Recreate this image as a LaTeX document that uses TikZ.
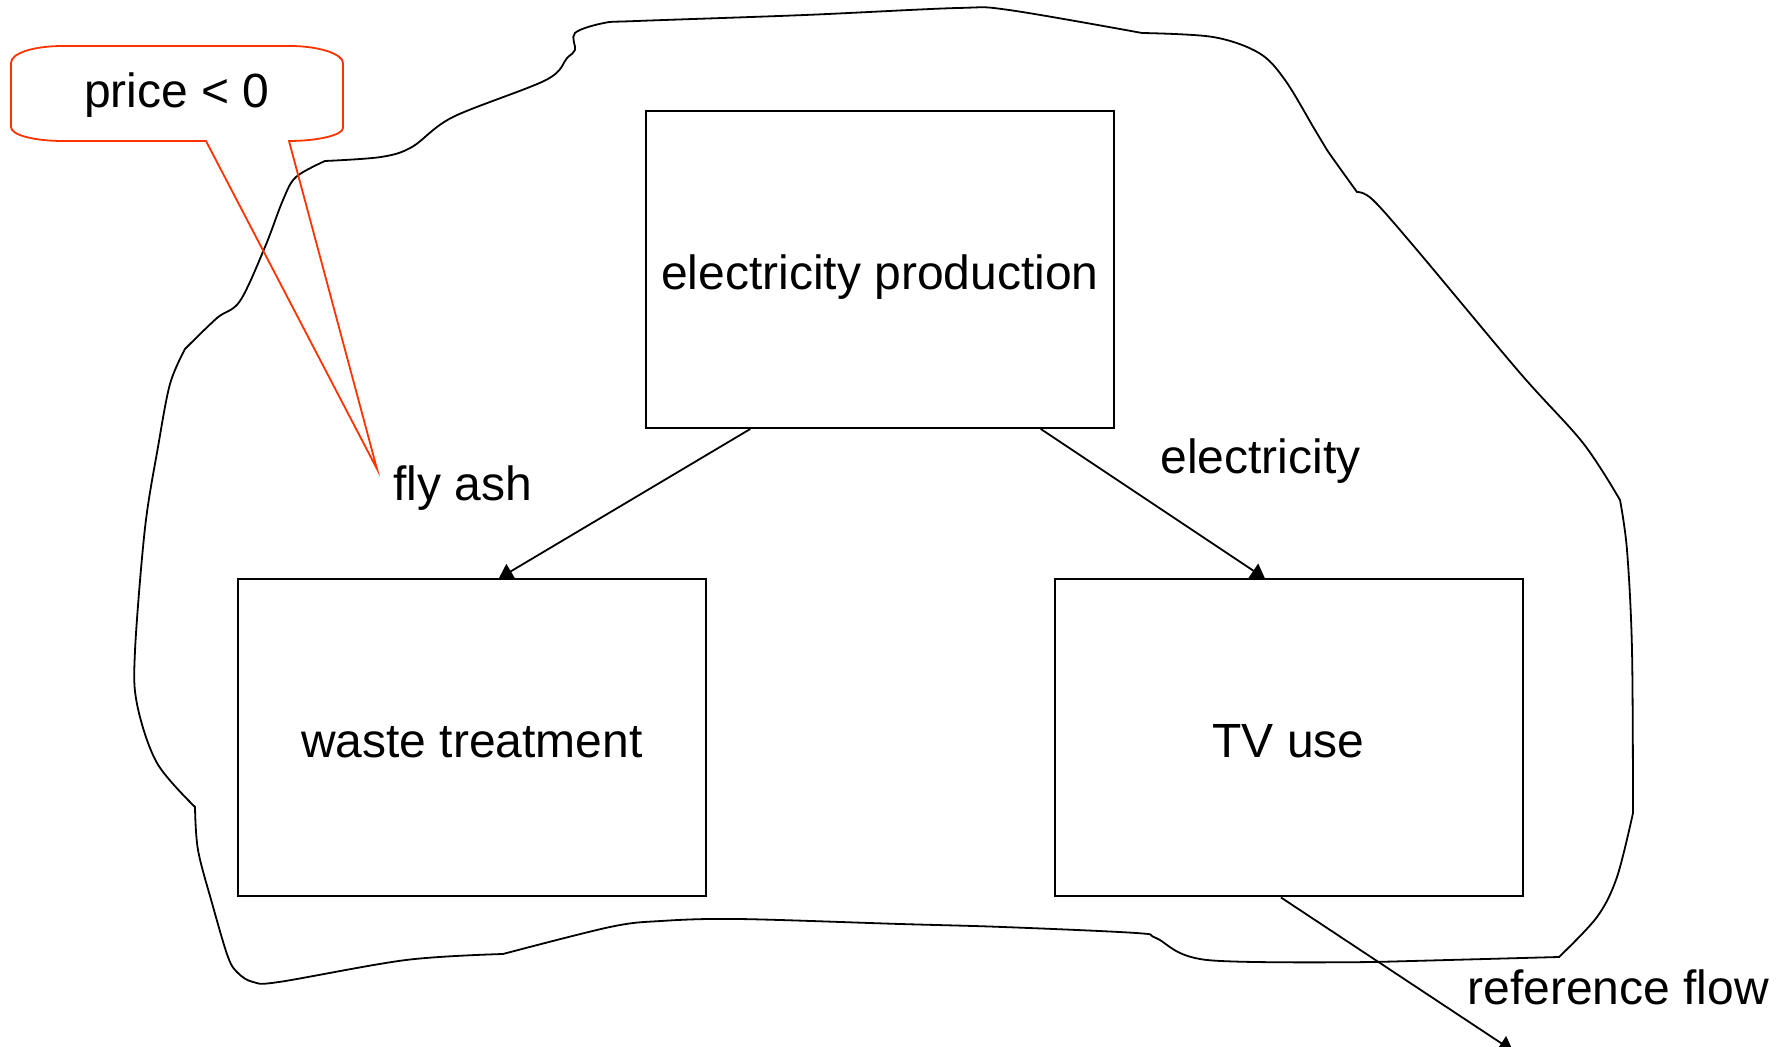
\documentclass[tikz,border=0pt]{standalone}
\usepackage{fontspec}
\setmainfont{Liberation Sans}
\usetikzlibrary{arrows.meta,calc}
\definecolor{calloutred}{RGB}{255,51,0}
\begin{document}
\begin{tikzpicture}[x=0.5pt,y=-0.5pt,
  every node/.style={font=\fontsize{24}{29}\selectfont},
  process/.style={draw, line width=1pt, minimum width=234pt, minimum height=158.5pt, inner sep=0pt,
    text height=20pt, text depth=0pt},
  flow/.style={line width=0.9pt, -{Triangle[length=7pt,width=8.5pt]}},
  tag/.style={inner sep=0pt},
  boundary/.style={line width=0.9pt},
  callout/.style={draw=calloutred, line width=0.9pt, line join=miter}]
\useasboundingbox (0,0) rectangle (1790,1047);

% system boundary
\draw[boundary]
  plot[smooth, tension=0.55] coordinates {(195,807) (157,763) (137,704) (135,651) (145,528) (158,447) (170,384) (185,349)}
  -- plot[smooth, tension=0.55] coordinates {(185,349) (217,318) (240,301) (265,247) (283,200) (296,177) (325,161)}
  -- plot[smooth, tension=0.55] coordinates {(325,161) (381,157) (412,147) (453,117) (546,80) (567,58) (575,50) (575,33) (604,23) (637,21) (805,15) (958,8) (1009,10) (1142,33)}
  -- plot[smooth, tension=0.55] coordinates {(1142,33) (1213,37) (1259,53) (1285,80) (1315,130) (1327,150) (1357,192)}
  -- plot[smooth, tension=0.55] coordinates {(1357,192) (1373,200) (1417,250) (1520,373) (1583,443) (1620,500)}
  -- plot[smooth, tension=0.55] coordinates {(1620,500) (1627,550) (1632,650) (1633,813)}
  -- plot[smooth, tension=0.55] coordinates {(1633,813) (1617,877) (1597,917) (1559,957)}
  -- (1375,962)
  -- plot[smooth, tension=0.55] coordinates {(1375,962) (1207,960) (1156,938) (1136,933) (1003,927) (900,924) (738,919) (661,921) (610,927) (503,954)}
  -- plot[smooth, tension=0.55] coordinates {(503,954) (406,960) (279,982) (253,982) (238,973) (228,957) (212,903) (198,850) (195,807)}
  -- cycle;

% processes
\node[process] (ep) at (880,269.5) {electricity production};
\node[process] (wt) at (472,738) {waste treatment};
\node[process] (tv) at (1288.5,738) {TV use};

% flow labels
\node[tag, anchor=west] (fa) at (393,488.5) {fly ash};
\node[tag, anchor=west] (el) at (1160,461.5) {electricity};
\node[tag, anchor=west] (rfl) at (1467,987) {reference flow};
\coordinate (rf) at (1513,1051);

% flows
\draw[flow] ($(ep.south west)!0.224!(ep.south east)$) -- ($(wt.north west)!0.557!(wt.north east)$);
\draw[flow] ($(ep.south west)!0.842!(ep.south east)$) -- ($(tv.north west)!0.45!(tv.north east)$);
\draw[flow] ($(tv.south west)!0.484!(tv.south east)$) -- (rf);

% price callout pointing at the fly ash
\node[tag] (pr) at (177,95.5) {price < 0};
\coordinate (tip) at (377,469);
\draw[callout] (63,46) -- (290,46)
  .. controls (319,46) and (343,54) .. (343,63) -- (343,128)
  .. controls (343,135) and (318,141) .. (289,141) -- (tip) -- (206,141) -- (63,141)
  .. controls (34,141) and (11,135) .. (11,127) -- (11,63)
  .. controls (11,53) and (34,46) .. (63,46) -- cycle;
\end{tikzpicture}
\end{document}
